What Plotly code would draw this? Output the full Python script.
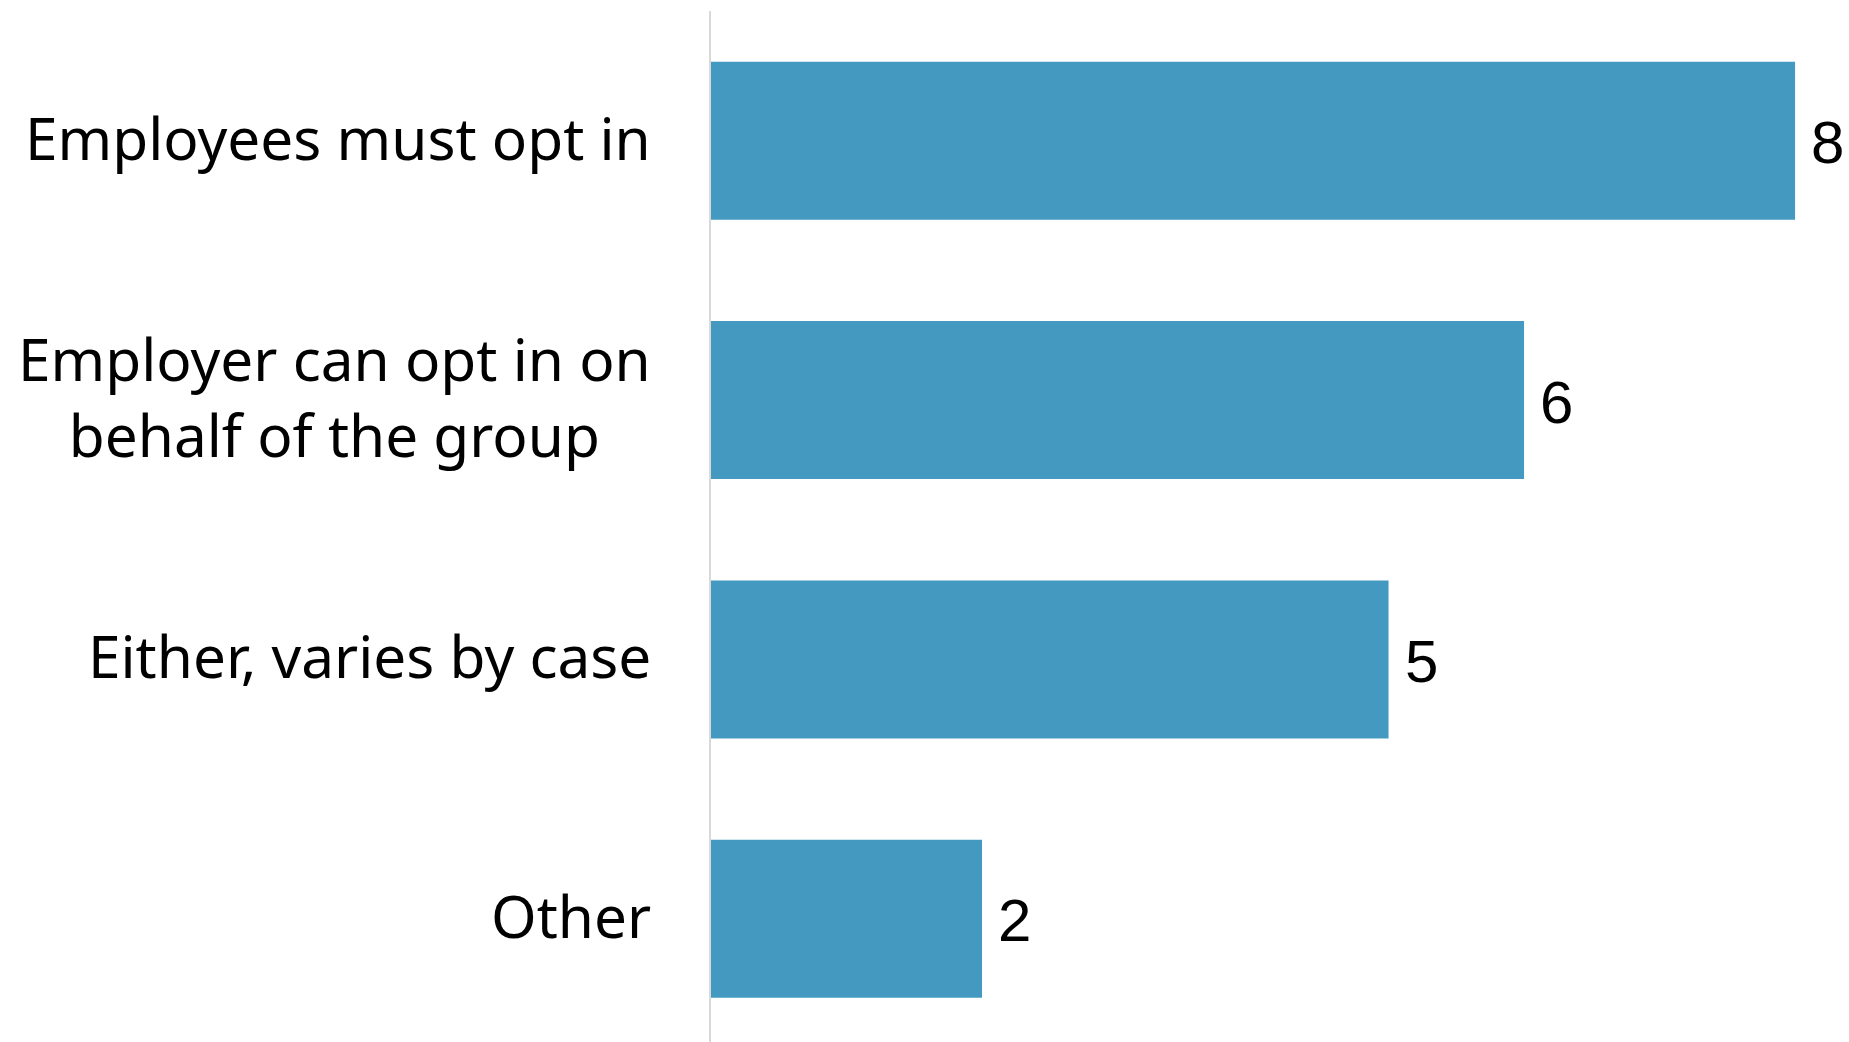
import plotly.graph_objects as go

# Survey responses: who opts in to coverage
categories = [
    "Employees must opt in",
    "Employer can opt in on<br>behalf of the group",
    "Either, varies by case",
    "Other",
]
counts = [8, 6, 5, 2]

BAR_COLOR = "#4499c1"
LABEL_FONT = dict(family="Noto Sans, Lato, sans-serif", size=58.5, color="#000000")
VALUE_FONT = dict(family="Liberation Sans, Arial, sans-serif", size=60, color="#000000")

fig = go.Figure(
    go.Bar(
        x=counts,
        y=categories,
        orientation="h",
        marker=dict(color=BAR_COLOR, line=dict(width=0)),
        width=0.609,
        hoverinfo="skip",
    )
)

# Category labels, lines centred on each other, right edge near the axis
for cat in categories:
    fig.add_annotation(
        x=0, xref="paper", y=cat, yref="y",
        text=cat, showarrow=False,
        xanchor="right", yanchor="middle", align="center",
        xshift=-58, yshift=4, font=LABEL_FONT,
    )

# Value labels just past the end of each bar
for cat, val in zip(categories, counts):
    fig.add_annotation(
        x=val, xref="x", y=cat, yref="y",
        text=str(val), showarrow=False,
        xanchor="left", yanchor="middle",
        xshift=14, yshift=-2, font=VALUE_FONT,
    )

fig.update_layout(
    width=1849,
    height=1042,
    margin=dict(l=711, r=0, t=11, b=0),
    paper_bgcolor="white",
    plot_bgcolor="white",
    showlegend=False,
    xaxis=dict(
        range=[0, 8.398],
        showgrid=False, zeroline=False, showline=False,
        showticklabels=False, ticks="",
    ),
    yaxis=dict(
        type="category",
        categoryorder="array",
        categoryarray=categories,
        range=[3.475, -0.5],
        showgrid=False, zeroline=False,
        showline=True, linecolor="#d9d9d9", linewidth=2,
        showticklabels=False, ticks="",
    ),
)

fig.write_html("out.html")
